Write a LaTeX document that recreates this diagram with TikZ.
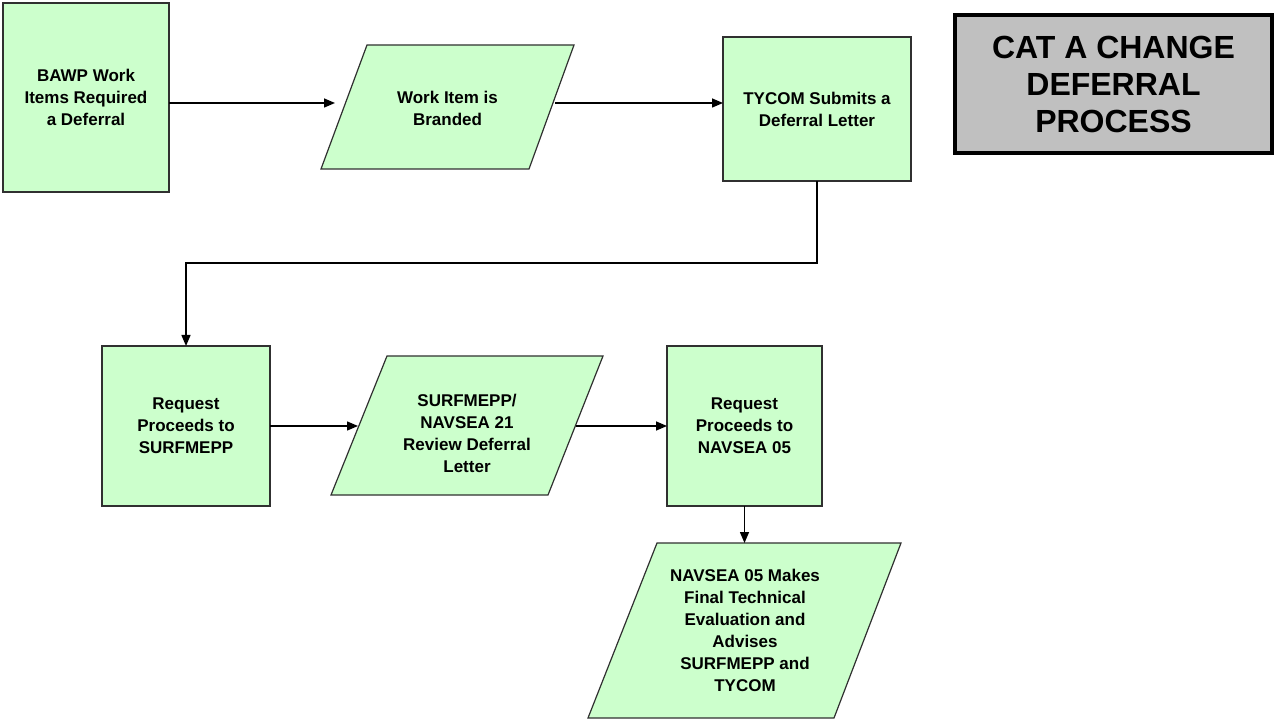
\documentclass[tikz,border=0pt]{standalone}
\usepackage{fontspec}
\setmainfont{Liberation Sans}
\usetikzlibrary{arrows.meta}
\definecolor{boxgreen}{HTML}{CCFFCC}
\definecolor{titlegray}{HTML}{C0C0C0}
\definecolor{edge}{HTML}{303030}
\begin{document}
\begin{tikzpicture}[x=1pt,y=-1pt,
  every node/.style={inner sep=0pt, outer sep=0pt},
  procbox/.style={draw=edge, fill=boxgreen, line width=1.2pt, align=center,
    font=\bfseries\fontsize{17}{22}\selectfont},
  iobox/.style={draw=edge, fill=boxgreen, line width=1.2pt, line join=miter},
  iotext/.style={align=center, font=\bfseries\fontsize{17}{22}\selectfont},
  titlebox/.style={draw=black, fill=titlegray, line width=4pt, align=center,
    font=\bfseries\fontsize{32}{37}\selectfont},
  arr/.style={draw=black, line width=1.5pt,
    -{Triangle[length=11pt,width=9pt]}},
  link/.style={draw=black, line width=1.5pt}
]
\useasboundingbox (0,0) rectangle (1278,719);

% process boxes
\node[procbox, minimum width=166pt, minimum height=189pt] (b1) at (86,97.5)
  {BAWP Work\\Items Required\\a Deferral};
\node[procbox, minimum width=188pt, minimum height=144pt] (b3) at (817,109)
  {TYCOM Submits a\\Deferral Letter};
\node[procbox, minimum width=168pt, minimum height=160pt] (b4) at (186,426)
  {Request\\Proceeds to\\SURFMEPP};
\node[procbox, minimum width=155pt, minimum height=160pt] (b6) at (744.5,426)
  {Request\\Proceeds to\\NAVSEA 05};

% title
\node[titlebox, minimum width=317pt, minimum height=138pt] (title) at (1113.5,84)
  {CAT A CHANGE\\DEFERRAL\\PROCESS};

% parallelograms
\draw[iobox] (367,45) -- (574,45) -- (529,169) -- (321,169) -- cycle;
\node[iotext] (p1) at (447.5,108) {Work Item is\\Branded};

\draw[iobox] (387,356) -- (603,356) -- (548,495) -- (331,495) -- cycle;
\node[iotext] (p2) at (467,433) {SURFMEPP/\\NAVSEA 21\\Review Deferral\\Letter};

\draw[iobox] (657,543) -- (901,543) -- (834,718) -- (588,718) -- cycle;
\node[iotext] (p3) at (745,630.5) {NAVSEA 05 Makes\\Final Technical\\Evaluation and\\Advises\\SURFMEPP and\\TYCOM};

% connector end points on the slanted edges
\coordinate (p1in) at (335,103);
\coordinate (p1out) at (555,103);
\coordinate (p2in) at (358,426);
\coordinate (p2out) at (576,426);
\coordinate (p3in) at (744.5,543);
\coordinate (bend) at (0,263);

% connectors
\draw[arr] (b1.east |- p1in) -- (p1in);
\draw[arr] (p1out) -- (b3.west |- p1out);
\draw[arr] (b3.south) -- (b3.south |- bend) -| (b4.north);
\draw[arr] (b4.east |- p2in) -- (p2in);
\draw[arr] (p2out) -- (b6.west |- p2out);
\draw[arr] (b6.south) -- (p3in);
\end{tikzpicture}
\end{document}
